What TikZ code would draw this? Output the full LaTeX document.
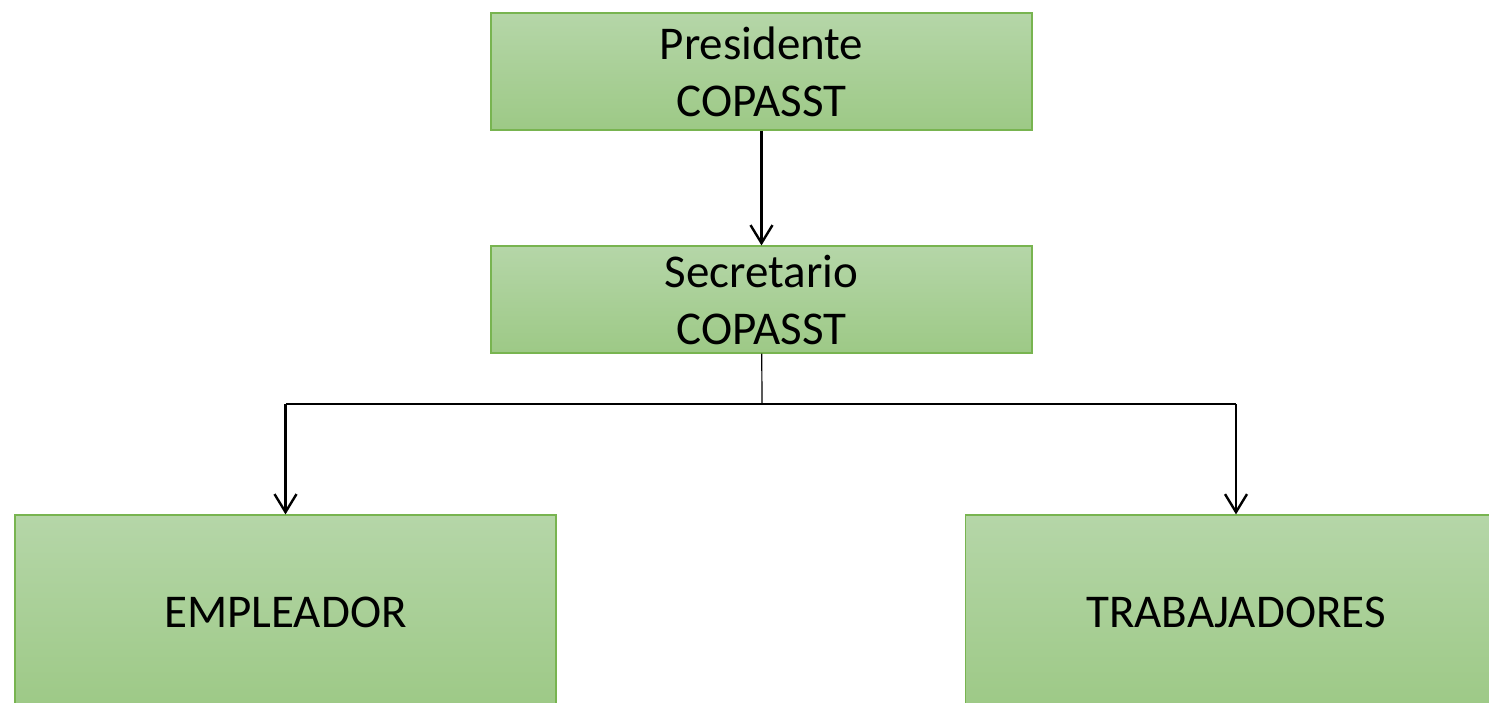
\documentclass[tikz,border=0pt]{standalone}
\usepackage{fontspec}
\setmainfont{Carlito}
\usetikzlibrary{arrows.meta,positioning}
\definecolor{boxtop}{HTML}{B5D6A8}
\definecolor{boxbot}{HTML}{9DC986}
\definecolor{boxline}{HTML}{78B450}

\begin{document}
\begin{tikzpicture}[x=0.5pt,y=-0.5pt]

\tikzset{greenbox/.style={font=\fontsize{23.5}{28.5}\selectfont,align=center,draw=boxline,line width=0.6pt,top color=boxtop,bottom color=boxbot,inner sep=0pt,minimum width=270.5pt},
link/.style={line width=1.2pt,-{Straight Barb[length=9pt,width=11pt,line width=1.2pt]}},
joint/.style={line width=0.6pt}}

% Canvas
\path[use as bounding box,clip] (0,0) rectangle (1489,702);

% Boxes
\node[greenbox,minimum height=58.5pt] (pres) at (761.5,71.5) {Presidente\\COPASST};
\node[greenbox,minimum height=53.5pt] (secr) at (761.5,299.5) {Secretario\\COPASST};
\node[greenbox,minimum height=97pt] (empl) at (285.5,612) {EMPLEADOR};
\node[greenbox,minimum height=97pt] (trab) at (1236,612) {TRABAJADORES};

% Connectors
\coordinate (split) at (762,404);
\draw[link] (pres) -- (secr);
\draw[joint] (secr) -- (split);
\draw[joint] (split -| empl) -- (split -| trab);
\draw[link] (split -| empl) -- (empl);
\draw[link] (split -| trab) -- (trab);

\end{tikzpicture}
\end{document}
